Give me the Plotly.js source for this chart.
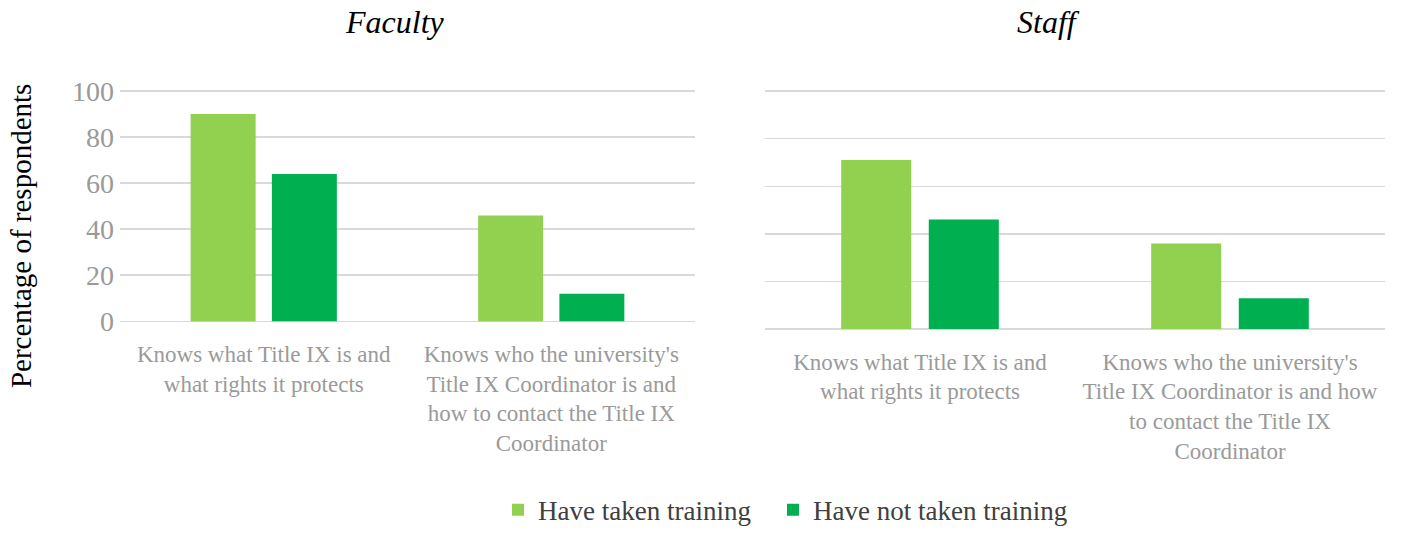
<!DOCTYPE html>
<html>
<head>
<meta charset="utf-8">
<script src="https://cdn.plot.ly/plotly-3.0.1.min.js"></script>
<style>html,body{margin:0;padding:0;background:#fff;}#chart{width:1401px;height:535px;}</style>
</head>
<body>
<div id="chart"></div>
<script>
const categories = ["Knows what Title IX is and what rights it protects",
                    "Knows who the university's Title IX Coordinator is and how to contact the Title IX Coordinator"];
const facultyTickText = ["Knows what Title IX is and<br>what rights it protects",
                         "Knows who the university's<br>Title IX Coordinator is and<br>how to contact the Title IX<br>Coordinator"];
const staffTickText = ["Knows what Title IX is and<br>what rights it protects",
                       "Knows who the university's<br>Title IX Coordinator is and how<br>to contact the Title IX<br>Coordinator"];
const seriesNames = ["Have taken training", "Have not taken training"];
const facultyTaken = [90, 46];
const facultyNotTaken = [64, 12];
const staffTaken = [71, 36];
const staffNotTaken = [46, 13];
const yTicks = [0, 20, 40, 60, 80, 100];

const colors = ["#92D050", "#00B050"];
const serif = "Liberation Serif, Times New Roman, serif";
const W = 1401, H = 535;

const traces = [
  {type:"bar", name:seriesNames[0], x:categories, y:facultyTaken, xaxis:"x", yaxis:"y", marker:{color:colors[0]}, legend:"legend"},
  {type:"bar", name:seriesNames[1], x:categories, y:facultyNotTaken, xaxis:"x", yaxis:"y", marker:{color:colors[1]}, legend:"legend2"},
  {type:"bar", name:seriesNames[0], x:categories, y:staffTaken, xaxis:"x2", yaxis:"y2", marker:{color:colors[0]}, showlegend:false},
  {type:"bar", name:seriesNames[1], x:categories, y:staffNotTaken, xaxis:"x2", yaxis:"y2", marker:{color:colors[1]}, showlegend:false}
];

// pad the value range slightly so the 0 and 100 gridlines are drawn
const pad = 0.6;
function dom(top0, bot0){ // pixel rows of value 100 and value 0
  const ppu = (bot0 - top0) / 100;
  return [1 - (bot0 + pad*ppu)/H, 1 - (top0 - pad*ppu)/H];
}

const legendFont = {family:serif, size:27, color:"#404040"};
const catFont = {family:serif, size:23, color:"#9a9a9a"};
const layout = {
  width:W, height:H,
  margin:{l:0, r:0, t:0, b:0},
  paper_bgcolor:"#fff", plot_bgcolor:"#fff",
  barmode:"group", bargap:0.435, bargroupgap:0.2,
  showlegend:true,
  legend:{orientation:"h", x:498/W, xanchor:"left", y:1-521/H, yanchor:"middle",
          font:legendFont, itemwidth:30},
  legend2:{orientation:"h", x:773/W, xanchor:"left", y:1-521/H, yanchor:"middle",
          font:legendFont, itemwidth:30},
  xaxis:{domain:[120/W, 695/W], anchor:"y", tickmode:"array", tickvals:categories, ticktext:facultyTickText,
         tickfont:catFont, showline:false, ticks:"", ticklabelstandoff:15, automargin:false},
  yaxis:{domain:dom(93, 328), anchor:"x", range:[-pad, 100+pad], tickmode:"array", tickvals:yTicks,
         tickfont:{family:serif, size:28, color:"#9a9a9a"}, gridcolor:"#d9d9d9", gridwidth:1.5,
         zeroline:false, showline:false, ticks:"", ticklabelstandoff:5, automargin:false},
  xaxis2:{domain:[765/W, 1385/W], anchor:"y2", tickmode:"array", tickvals:categories, ticktext:staffTickText,
          tickfont:catFont, showline:false, ticks:"", ticklabelstandoff:15, automargin:false},
  yaxis2:{domain:dom(93, 336), anchor:"x2", range:[-pad, 100+pad], tickmode:"array", tickvals:yTicks,
          showticklabels:false, gridcolor:"#d9d9d9", gridwidth:1.5, zeroline:false, showline:false, ticks:"", automargin:false},
  annotations:[
    {text:"<i>Faculty</i>", xref:"paper", yref:"paper", x:395/W, y:1-22/H, xanchor:"center", yanchor:"middle",
     showarrow:false, font:{family:serif, size:32, color:"#000"}},
    {text:"<i>Staff</i>", xref:"paper", yref:"paper", x:1048/W, y:1-22/H, xanchor:"center", yanchor:"middle",
     showarrow:false, font:{family:serif, size:32, color:"#000"}},
    {text:"Percentage of respondents", xref:"paper", yref:"paper", x:21/W, y:1-241/H, xanchor:"center", yanchor:"middle",
     textangle:-90, showarrow:false, font:{family:serif, size:29, color:"#000"}}
  ]
};

Plotly.newPlot("chart", traces, layout, {displayModeBar:false, staticPlot:true});
</script>
</body>
</html>
